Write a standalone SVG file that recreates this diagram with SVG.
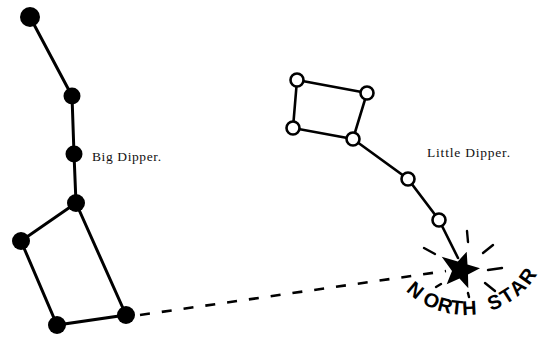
<svg xmlns="http://www.w3.org/2000/svg" width="540" height="341" viewBox="0 0 540 341">
<style>
.bg{fill:#fff}
.ln{stroke:#000;stroke-width:3;fill:none;stroke-linecap:round}
.ln2{stroke:#000;stroke-width:2.6;fill:none;stroke-linecap:round}
.dash{stroke:#000;stroke-width:2.6;fill:none;stroke-dasharray:10 12}
.ray{stroke:#000;stroke-width:2.4;fill:none;stroke-linecap:round}
.big{fill:#000}
.small{fill:#fff;stroke:#000;stroke-width:2.6}
.lbl{font-family:"Liberation Serif",serif;font-size:13.5px;fill:#111}
.ns{font-family:"Liberation Sans",Arial,sans-serif;font-weight:bold;font-size:20px;fill:#000}
</style>
<defs>
<path id="arc" d="M400.7,285 A84,84 0 0 0 543.9,259.7"/>
</defs>
<rect class="bg" x="0" y="0" width="540" height="341"/>
<g id="connectors">
<polyline class="ln" points="30,17 72,96 74,154 76,203 21,241 57,325 126,315 76,203"/>
<polyline class="ln2" points="297,80 367,93 353,139 293,128 297,80"/>
<polyline class="ln2" points="353,139 408,179 439,220 458,258"/>
<line class="dash" x1="140" y1="315" x2="446" y2="271"/>
</g>
<g id="big-dipper">
<circle class="big" cx="30" cy="17" r="10"/>
<circle class="big" cx="72" cy="96" r="8.5"/>
<circle class="big" cx="74" cy="154" r="8.5"/>
<circle class="big" cx="76" cy="203" r="9"/>
<circle class="big" cx="21" cy="241" r="9"/>
<circle class="big" cx="57" cy="325" r="9"/>
<circle class="big" cx="126" cy="315" r="9"/>
<text class="lbl" x="92" y="161" textLength="69">Big Dipper.</text>
</g>
<g id="little-dipper">
<circle class="small" cx="297" cy="80" r="6.5"/>
<circle class="small" cx="367" cy="93" r="6.5"/>
<circle class="small" cx="293" cy="128" r="6.5"/>
<circle class="small" cx="353" cy="139" r="6.5"/>
<circle class="small" cx="408" cy="179" r="6.5"/>
<circle class="small" cx="439" cy="220" r="6.5"/>
<text class="lbl" x="427" y="157" textLength="83">Little Dipper.</text>
</g>
<g id="north-star">
<polygon fill="#000" points="466.7,251.7 467.5,264.5 480,268.3 468,274.5 468.3,288.3 459.5,278.5 446.7,284.3 452,271 441.7,256.7 457.8,261.5"/>
<line class="ray" x1="467" y1="231" x2="468" y2="242"/>
<line class="ray" x1="483" y1="253" x2="493" y2="245"/>
<line class="ray" x1="424" y1="248" x2="435" y2="254"/>
<line class="ray" x1="488" y1="270" x2="502" y2="268"/>
<line class="ray" x1="485" y1="283" x2="495" y2="291"/>
<line class="ray" x1="436" y1="287" x2="441" y2="284"/>
<line class="ray" x1="468" y1="293" x2="469" y2="297"/>
<text class="ns"><textPath href="#arc" startOffset="7.5"><tspan dx="0 5.9 0.7 -0.4 0.2 0 8.9 2.5 2.8 2">NORTH STAR</tspan></textPath></text>
</g>
</svg>
